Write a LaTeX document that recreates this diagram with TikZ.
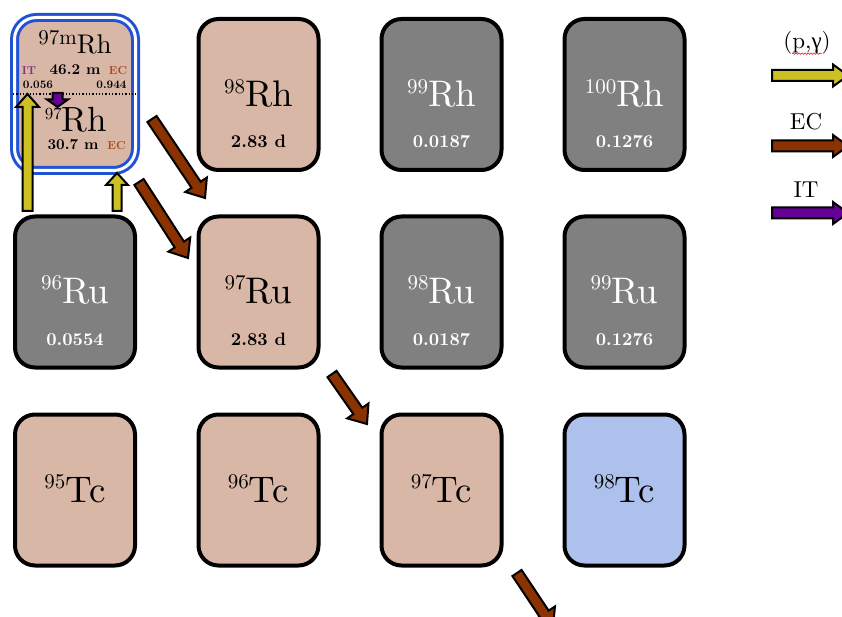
\documentclass[tikz,border=0pt]{standalone}
\usepackage{fontspec}
\usetikzlibrary{calc,decorations.pathmorphing}
% one design size of Latin Modern for every text size
\setmainfont{lmroman10-regular.otf}[BoldFont=lmroman10-bold.otf]
\newfontfamily\greekserif{Liberation Serif}

\definecolor{nucpink}{RGB}{217,183,167}
\definecolor{nucgray}{RGB}{128,128,128}
\definecolor{nucblue}{RGB}{174,192,236}
\definecolor{ringblue}{RGB}{32,82,214}
\definecolor{pgyellow}{RGB}{204,192,34}
\definecolor{ecbrown}{RGB}{138,50,0}
\definecolor{itpurple}{RGB}{102,0,150}
\definecolor{ittext}{RGB}{132,52,128}
\definecolor{ectext}{RGB}{172,72,28}

% isotope symbol: mass number as a raised superscript, then the element
\newcommand{\iso}[2]{\raisebox{13.5pt}{\fontsize{21}{21}\selectfont #1}\fontsize{37}{37}\selectfont #2}
\newcommand{\isosmall}[2]{\raisebox{9pt}{\fontsize{21}{21}\selectfont #1}\fontsize{27}{27}\selectfont #2}
\newcommand{\isomid}[2]{\raisebox{12pt}{\fontsize{17}{17}\selectfont #1}\fontsize{35}{35}\selectfont #2}

\tikzset{
  nucbox/.style={draw=black, line width=4pt, rounded corners=20pt,
    minimum width=120pt, minimum height=151pt, inner sep=0pt},
  unstable/.style={nucbox, fill=nucpink},
  stable/.style={nucbox, fill=nucgray},
  synthetic/.style={nucbox, fill=nucblue},
  isotope/.style={anchor=base, inner sep=0pt},
  life/.style={anchor=base, inner sep=0pt, font=\fontsize{18}{18}\selectfont\bfseries},
  smalltag/.style={anchor=base, inner sep=0pt, font=\fontsize{11.5}{11.5}\selectfont\bfseries},
  ratio/.style={anchor=base, inner sep=0pt, font=\fontsize{11.5}{11.5}\selectfont\bfseries},
  halftime/.style={anchor=base, inner sep=0pt, font=\fontsize{15}{15}\selectfont\bfseries},
  legendtext/.style={inner sep=0pt, font=\fontsize{23}{23}\selectfont},
  % block arrow: shaft half width, head half width, head length
  fat/.style n args={3}{to path={
    ($(\tikztostart)!#1!90:(\tikztotarget)$)
    -- ($($(\tikztotarget)!#3!(\tikztostart)$)!#1!90:(\tikztotarget)$)
    -- ($($(\tikztotarget)!#3!(\tikztostart)$)!#2!90:(\tikztotarget)$)
    -- (\tikztotarget)
    -- ($($(\tikztotarget)!#3!(\tikztostart)$)!#2!-90:(\tikztotarget)$)
    -- ($($(\tikztotarget)!#3!(\tikztostart)$)!#1!-90:(\tikztotarget)$)
    -- ($(\tikztostart)!#1!-90:(\tikztotarget)$)
    -- cycle}},
  blockarrow/.style={draw=black, line width=2pt, line join=miter},
  pgarrow/.style={blockarrow, fill=pgyellow},
  ecarrow/.style={blockarrow, fill=ecbrown},
  itarrow/.style={blockarrow, fill=itpurple},
}

\begin{document}
\begin{tikzpicture}[x=1pt,y=-1pt]
\clip (0,0) rectangle (842,617);
\fill[white] (0,0) rectangle (842,617);

% ---- Rh row ----
\node[unstable, line width=3pt, draw=ringblue,
      double=white, double distance=3pt, rounded corners=22pt,
      minimum width=121pt, minimum height=153pt] (rh97) at (75,94) {};
\node[unstable] (rh98)  at (258.5,94.5) {};
\node[stable]   (rh99)  at (441.5,94.5) {};
\node[stable]   (rh100) at (624.5,94.5) {};

% ---- Ru row ----
\node[stable]   (ru96) at (75,292) {};
\node[unstable] (ru97) at (258.5,292) {};
\node[stable]   (ru98) at (441.5,292) {};
\node[stable]   (ru99) at (624.5,292) {};

% ---- Tc row ----
\node[unstable]  (tc95) at (75,490) {};
\node[unstable]  (tc96) at (258.5,490) {};
\node[unstable]  (tc97) at (441.5,490) {};
\node[synthetic] (tc98) at (624.5,490) {};

% labels of the plain boxes
\node[isotope] (l98rh)  at ($(rh98)+(0,12.5)$)  {\iso{98}{Rh}};
\node[life]    (h98rh)  at ($(rh98)+(0,53.5)$)  {2.83 d};
\node[isotope, text=white] (l99rh)  at ($(rh99)+(0,12.5)$)  {\iso{99}{Rh}};
\node[life, text=white]    (h99rh)  at ($(rh99)+(0,53.5)$)  {0.0187};
\node[isotope, text=white] (l100rh) at ($(rh100)+(0,12.5)$) {\iso{100}{Rh}};
\node[life, text=white]    (h100rh) at ($(rh100)+(0,53.5)$) {0.1276};

\node[isotope, text=white] (l96ru) at ($(ru96)+(0,11)$) {\iso{96}{Ru}};
\node[life, text=white]    (h96ru) at ($(ru96)+(0,53)$) {0.0554};
\node[isotope]             (l97ru) at ($(ru97)+(0,11)$) {\iso{97}{Ru}};
\node[life]                (h97ru) at ($(ru97)+(0,53)$) {2.83 d};
\node[isotope, text=white] (l98ru) at ($(ru98)+(0,11)$) {\iso{98}{Ru}};
\node[life, text=white]    (h98ru) at ($(ru98)+(0,53)$) {0.0187};
\node[isotope, text=white] (l99ru) at ($(ru99)+(0,11)$) {\iso{99}{Ru}};
\node[life, text=white]    (h99ru) at ($(ru99)+(0,53)$) {0.1276};

\node[isotope] (l95tc) at ($(tc95)+(0,12)$) {\iso{95}{Tc}};
\node[isotope] (l96tc) at ($(tc96)+(0,12)$) {\iso{96}{Tc}};
\node[isotope] (l97tc) at ($(tc97)+(0,12)$) {\iso{97}{Tc}};
\node[isotope] (l98tc) at ($(tc98)+(0,12)$) {\iso{98}{Tc}};

% isomer and ground state sharing one box
\draw[line width=1.3pt, dotted] (rh97.west) -- (rh97.east);
\node[isotope]  (l97mrh) at (75,54)  {\isosmall{97m}{Rh}};
\node[halftime] (t97mrh) at (75,75)  {46.2 m};
\node[smalltag, text=ittext] (it97)  at (29,75)  {IT};
\node[smalltag, text=ectext] (ec97m) at (118,75) {EC};
\node[ratio]    (r97it)  at (38,89)    {0.056};
\node[ratio]    (r97ec)  at (111.5,89) {0.944};
\node[isotope]  (l97rh)  at (76,132)   {\isomid{97}{Rh}};
\node[halftime] (t97rh)  at (73,150)   {30.7 m};
\node[smalltag, text=ectext] (ec97)  at (116.5,150) {EC};

% ---- reaction and decay arrows ----
\coordinate (itfrom) at (57.5,93);
\coordinate (itto)   at (57.5,107);
\draw[itarrow, fat={5pt}{10.5pt}{7.5pt}] (itfrom) to (itto);

\coordinate (pg1from) at (27.5,211);
\coordinate (pg1to)   at (27.5,94);
\draw[pgarrow, fat={5pt}{11.5pt}{13pt}] (pg1from) to (pg1to);
\coordinate (pg2from) at (117,211);
\coordinate (pg2to)   at (117,173);
\draw[pgarrow, fat={4.5pt}{11pt}{12pt}] (pg2from) to (pg2to);

\coordinate (ec1from) at (152,119);
\coordinate (ec1to)   at (205,198);
\draw[ecarrow, fat={5.5pt}{13pt}{16pt}] (ec1from) to (ec1to);
\coordinate (ec2from) at (139,182);
\coordinate (ec2to)   at (188,258);
\draw[ecarrow, fat={5.5pt}{13pt}{16pt}] (ec2from) to (ec2to);
\coordinate (ec3from) at (332,374);
\coordinate (ec3to)   at (367,424);
\draw[ecarrow, fat={5.5pt}{13pt}{16pt}] (ec3from) to (ec3to);
\coordinate (ec4from) at (517,573);
\coordinate (ec4to)   at (553,627);
\draw[ecarrow, fat={5.5pt}{13pt}{16pt}] (ec4from) to (ec4to);

% ---- legend ----
\node[legendtext] (legpg) at (807,43) {(p,{\greekserif γ})};
\draw[red, line width=0.5pt, decorate,
      decoration={snake, amplitude=0.8pt, segment length=3pt}]
  ($(legpg.south west)+(9,-1)$) -- ($(legpg.south east)+(-9,-1)$);
\coordinate (legpgfrom) at (772,75.5);
\coordinate (legpgto)   at (848,75.5);
\draw[pgarrow, fat={5.5pt}{11pt}{15pt}] (legpgfrom) to (legpgto);

\node[legendtext] (legec) at (806,122) {EC};
\coordinate (legecfrom) at (772,146);
\coordinate (legecto)   at (848,146);
\draw[ecarrow, fat={5.5pt}{11pt}{15pt}] (legecfrom) to (legecto);

\node[legendtext] (legit) at (806,190) {IT};
\coordinate (legitfrom) at (772,213);
\coordinate (legitto)   at (848,213);
\draw[itarrow, fat={5.5pt}{11pt}{15pt}] (legitfrom) to (legitto);
\end{tikzpicture}
\end{document}
